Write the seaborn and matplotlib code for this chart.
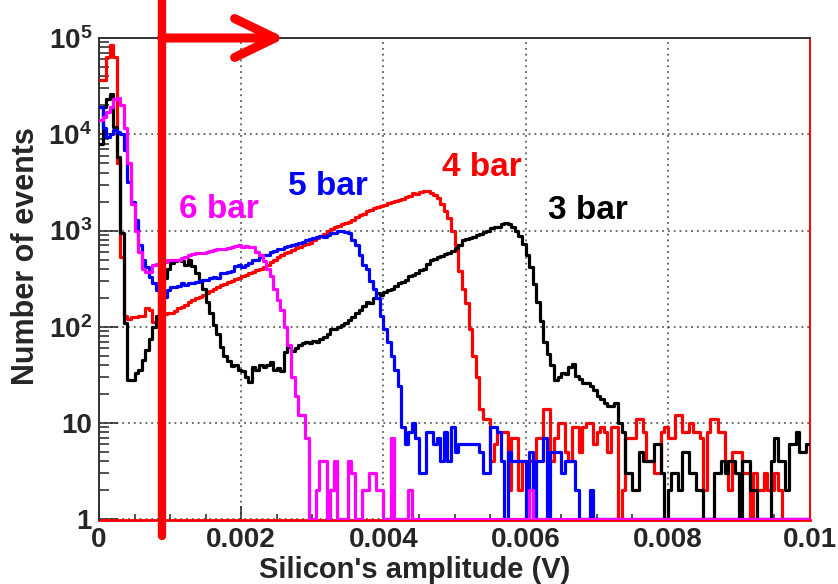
import numpy as np
import pandas as pd
import matplotlib
matplotlib.use("Agg")
import matplotlib.pyplot as plt
import seaborn as sns
from matplotlib.ticker import FixedLocator, LogLocator, MultipleLocator, NullFormatter

# Histogram binning of the silicon amplitude (V)
bin_width = 0.00005
n_bins = 200
amp_range = (0.0, 0.01)

# Event counts per amplitude bin for each gas pressure
counts_3bar = [
    8000, 19000, 23000, 26000, 12000, 5800, 950, 110, 28, 28,
    33, 36, 45, 58, 75, 100, 130, 200, 320, 400,
    460, 480, 500, 480, 440, 490, 430, 360, 300, 250,
    180, 140, 105, 85, 62, 50, 44, 39, 40, 36,
    35, 30, 27, 38, 36, 40, 38, 40, 43, 36,
    37, 35, 55, 61, 56, 60, 65, 68, 70, 68,
    72, 70, 75, 78, 85, 94, 96, 100, 104, 110,
    118, 125, 140, 150, 165, 182, 178, 200, 225, 215,
    230, 240, 245, 265, 285, 290, 310, 335, 348, 360,
    385, 395, 450, 495, 510, 525, 545, 570, 590, 620,
    660, 700, 790, 810, 840, 860, 890, 910, 960, 1000,
    1060, 1100, 1080, 1180, 1200, 1160, 1100, 1000, 880, 720,
    560, 420, 280, 180, 115, 70, 52, 40, 28, 30,
    33, 32, 38, 41, 31, 29, 26, 26, 24, 22,
    19, 18, 16, 15, 15, 16, 10, 8, 3, 3,
    2, 2, 5, 4, 4, 4, 6, 6, 3, 0,
    2, 3, 3, 2, 5, 5, 3, 3, 2, 2,
    0, 0, 0, 3, 3, 4, 3, 4, 4, 3,
    0, 4, 4, 2, 2, 0, 0, 0, 1, 4,
    7, 4, 4, 2, 6, 6, 8, 5, 5, 6,
]

counts_4bar = [
    37000, 37000, 63000, 85000, 63000, 5000, 530, 128, 122, 125,
    127, 128, 130, 158, 150, 111, 108, 130, 135, 138,
    140, 145, 155, 162, 170, 180, 190, 198, 206, 212,
    225, 235, 250, 260, 270, 280, 292, 300, 315, 325,
    340, 345, 360, 375, 385, 395, 420, 440, 470, 500,
    530, 560, 580, 600, 630, 660, 680, 700, 730, 750,
    790, 830, 880, 930, 980, 1030, 1080, 1120, 1160, 1200,
    1240, 1290, 1380, 1450, 1500, 1580, 1650, 1700, 1760, 1820,
    1860, 1930, 1980, 2050, 2080, 2150, 2250, 2300, 2450, 2400,
    2500, 2550, 2600, 2450, 2350, 2200, 1900, 1600, 1350, 1000,
    700, 380, 250, 175, 95, 50, 30, 14, 11, 11,
    4, 6, 8, 8, 8, 2, 7, 7, 2, 4,
    4, 4, 4, 7, 7, 14, 14, 4, 7, 10,
    10, 5, 4, 9, 9, 5, 9, 10, 10, 6,
    8, 9, 8, 5, 9, 9, 0, 2, 7, 7,
    7, 11, 11, 8, 4, 4, 3, 3, 8, 9,
    7, 7, 12, 12, 8, 8, 10, 8, 8, 7,
    2, 8, 11, 11, 8, 8, 4, 2, 5, 5,
    5, 3, 3, 0, 3, 2, 2, 3, 2, 2,
    3, 2, 0, 0, 0, 0, 0, 0, 0, 0,
]

counts_5bar = [
    19000, 11500, 9400, 10000, 11000, 10500, 10000, 6900, 3200, 2000,
    1300, 710, 500, 420, 330, 285, 243, 205, 205, 243,
    260, 260, 265, 285, 275, 285, 288, 290, 300, 305,
    310, 320, 330, 320, 360, 365, 370, 380, 430, 440,
    420, 440, 460, 490, 500, 530, 560, 560, 600, 620,
    640, 650, 680, 690, 700, 730, 750, 760, 790, 810,
    830, 850, 870, 860, 900, 950, 940, 980, 1000, 970,
    950, 800, 700, 560, 440, 400, 300, 250, 200, 128,
    95, 70, 50, 36, 24, 9, 6, 8, 10, 7,
    3, 3, 8, 8, 6, 7, 4, 8, 4, 9,
    5, 6, 6, 6, 6, 6, 6, 5, 3, 3,
    9, 9, 8, 4, 0, 5, 4, 4, 4, 4,
    0, 5, 0, 4, 4, 7, 1, 5, 5, 5,
    3, 4, 4, 4, 2, 0, 0, 0, 2, 0,
    0, 0, 0, 0, 0, 0, 0, 0, 0, 0,
    0, 0, 0, 0, 0, 0, 0, 0, 0, 0,
    0, 0, 0, 0, 0, 0, 0, 0, 0, 0,
    0, 0, 0, 0, 0, 0, 0, 0, 0, 0,
    0, 0, 0, 0, 0, 0, 0, 0, 0, 0,
    0, 0, 0, 0, 0, 0, 0, 0, 0, 0,
]

counts_6bar = [
    14000, 15000, 17000, 19000, 23000, 24000, 20000, 11500, 5000, 1900,
    1000, 600, 400, 375, 370, 440, 450, 470, 470, 490,
    500, 500, 500, 520, 530, 560, 570, 580, 590, 590,
    600, 620, 630, 640, 640, 650, 660, 680, 690, 700,
    680, 690, 680, 670, 600, 560, 480, 400, 340, 250,
    190, 150, 100, 65, 30, 19, 12, 12, 7, 0,
    0, 2, 4, 4, 0, 2, 4, 0, 0, 0,
    4, 3, 0, 0, 2, 2, 3, 3, 2, 2,
    0, 0, 7, 0, 0, 0, 0, 2, 0, 0,
    0, 0, 0, 0, 0, 0, 0, 0, 0, 0,
    0, 0, 0, 0, 0, 0, 0, 0, 0, 0,
    0, 0, 0, 0, 0, 0, 0, 0, 0, 0,
    0, 2, 0, 0, 0, 0, 0, 0, 0, 0,
    0, 0, 0, 0, 0, 0, 0, 0, 0, 0,
    0, 0, 0, 0, 0, 0, 0, 0, 0, 0,
    0, 0, 0, 0, 0, 0, 0, 0, 0, 0,
    0, 0, 0, 0, 0, 0, 0, 0, 0, 0,
    0, 0, 0, 0, 0, 0, 0, 0, 0, 0,
    0, 0, 0, 0, 0, 0, 0, 0, 0, 0,
    0, 0, 0, 0, 0, 0, 0, 0, 0, 0,
]

series_labels = ["4 bar", "3 bar", "5 bar", "6 bar"]
series_colors = ["#ff0000", "#000000", "#0000ff", "#ff00ff"]
series_counts = [counts_4bar, counts_3bar, counts_5bar, counts_6bar]

# Label anchor points (amplitude, events)
label_x = {"3 bar": 0.00687, "4 bar": 0.00539, "5 bar": 0.00322, "6 bar": 0.00168}
label_y = {"3 bar": 1600, "4 bar": 4500, "5 bar": 2900, "6 bar": 1640}

x_ticks = [0, 0.002, 0.004, 0.006, 0.008, 0.01]
x_tick_labels = ["0", "0.002", "0.004", "0.006", "0.008", "0.01"]
y_ticks = [1, 10, 100, 1000, 10000, 100000]
y_tick_labels = ["1", "10", r"$10^{2}$", r"$10^{3}$", r"$10^{4}$", r"$10^{5}$"]

# Selection threshold on the amplitude
cut_amplitude = 0.00088
arrow_end = 0.00262

sns.set_theme(style="ticks")
plt.rcParams["font.family"] = ["Liberation Sans", "DejaVu Sans"]
plt.rcParams["font.weight"] = "bold"
plt.rcParams["mathtext.fontset"] = "custom"
plt.rcParams["mathtext.rm"] = "Liberation Sans:bold"
plt.rcParams["mathtext.it"] = "Liberation Sans:bold"
plt.rcParams["mathtext.bf"] = "Liberation Sans:bold"
plt.rcParams["mathtext.default"] = "rm"

centers = (np.arange(n_bins) + 0.5) * bin_width

frames = []
for lab, cnt in zip(series_labels, series_counts):
    frames.append(pd.DataFrame({"amplitude": centers,
                                "events": np.asarray(cnt, dtype=float),
                                "pressure": lab}))
df = pd.concat(frames, ignore_index=True)
# empty bins sit on the lower edge of the log axis
df["shown"] = df["events"].clip(lower=1)

fig = plt.figure(figsize=(8.38, 5.84), dpi=100)
ax = fig.add_axes([99 / 838, 1 - 520 / 584, 711 / 838, 482 / 584])

for lab, col in zip(series_labels, series_colors):
    sub = df[df["pressure"] == lab]
    sns.histplot(data=sub, x="amplitude", weights="shown",
                 binwidth=bin_width, binrange=amp_range,
                 element="step", fill=False, color=col, linewidth=2.3,
                 zorder=3, ax=ax)

ax.set_yscale("log")
ax.set_xlim(*amp_range)
# a hair below 1 so the floor of empty bins stays visible on the frame
ax.set_ylim(0.985, 1e5)

ax.grid(True, which="major", linestyle=(0, (1.2, 2.6)), color="#444444", linewidth=1.1)
ax.set_axisbelow(True)

ax.xaxis.set_major_locator(FixedLocator(x_ticks))
ax.set_xticklabels(x_tick_labels)
ax.xaxis.set_minor_locator(MultipleLocator(0.0005))
ax.yaxis.set_major_locator(FixedLocator(y_ticks))
ax.set_yticklabels(y_tick_labels)
ax.yaxis.set_minor_locator(LogLocator(base=10, subs=np.arange(2, 10)))
ax.yaxis.set_minor_formatter(NullFormatter())

ax.tick_params(axis="both", which="both", direction="in", top=False, right=False,
               labelsize=20, width=1.1, color="#222222")
ax.tick_params(axis="x", which="major", length=10, pad=5)
ax.tick_params(axis="x", which="minor", length=4.5)
ax.tick_params(axis="y", which="major", length=14, pad=5)
ax.tick_params(axis="y", which="minor", length=7)

for side in ["left", "top"]:
    ax.spines[side].set_color("#333333")
    ax.spines[side].set_linewidth(1.4)
ax.spines["bottom"].set_color("#ff0000")
ax.spines["bottom"].set_linewidth(2)
ax.spines["bottom"].set_zorder(1)
ax.spines["right"].set_color("#ff0000")
ax.spines["right"].set_linewidth(1.4)

ax.set_xlabel("Silicon's amplitude (V)", fontsize=21, fontweight="bold")
ax.set_ylabel("Number of events", fontsize=22, fontweight="bold")
ax.xaxis.set_label_coords(0.444, -0.075)
ax.yaxis.set_label_coords(-0.081, 0.548)

for lab, col in zip(series_labels, series_colors):
    ax.text(label_x[lab], label_y[lab], lab, color=col, fontsize=24,
            fontweight="bold", ha="center", va="center")

# threshold line and arrow pointing to the accepted region
ax.axvline(cut_amplitude, ymin=-0.033, ymax=1.1, color="#ff0000", linewidth=6,
           clip_on=False, zorder=6)
ax.annotate("", xy=(arrow_end, 1e5), xytext=(cut_amplitude, 1e5),
            arrowprops=dict(arrowstyle="->,head_length=2.9,head_width=1.4",
                            color="#ff0000", lw=6.5, shrinkA=0, shrinkB=0,
                            mutation_scale=10, capstyle="round"),
            annotation_clip=False, zorder=6)

fig.savefig("out.png", dpi=100)
